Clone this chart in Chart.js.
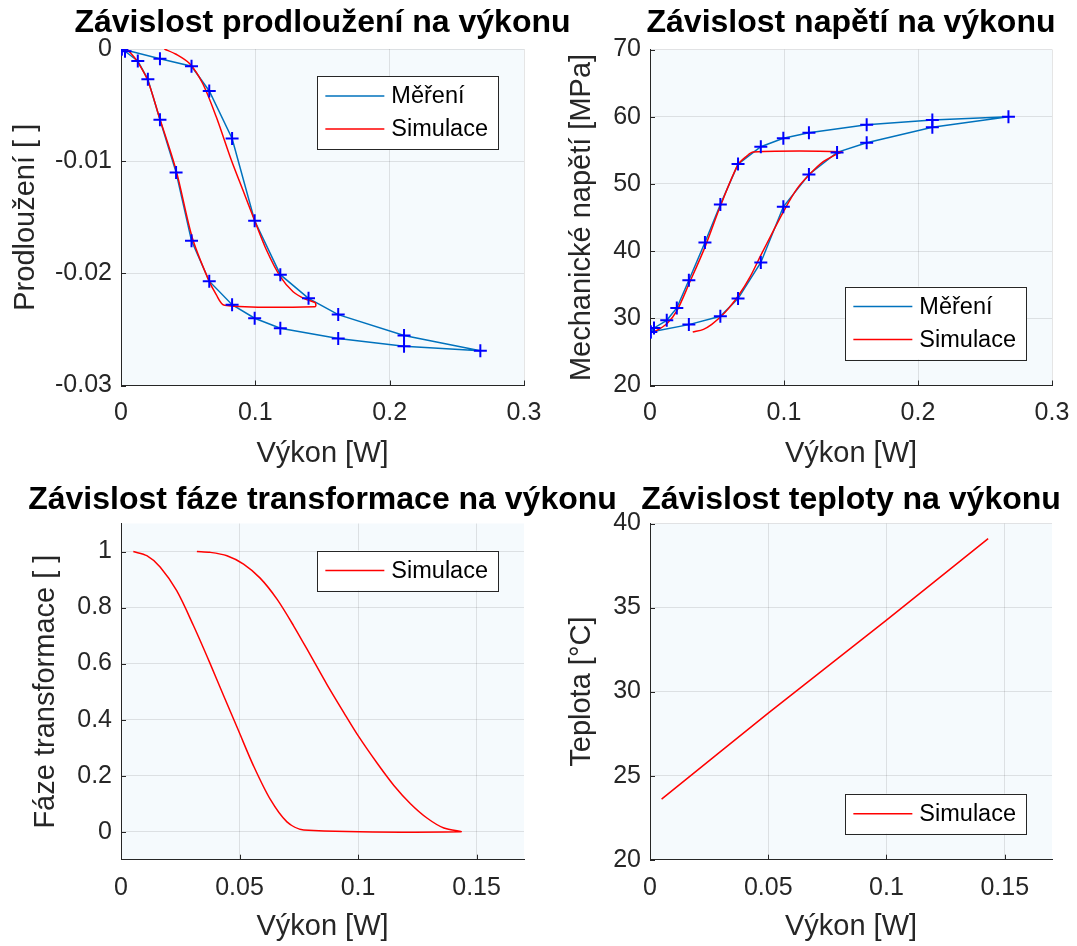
<!DOCTYPE html>
<html>
<head>
<meta charset="utf-8">
<title>Závislosti na výkonu</title>
<script src="https://cdn.jsdelivr.net/npm/chart.js@4.4.1/dist/chart.umd.min.js"></script>
<style>
  html, body { margin: 0; padding: 0; background: #ffffff; overflow: hidden; }
  #fig { position: relative; width: 1077px; height: 946px; overflow: hidden; }
  #fig canvas { position: absolute; left: 0; }
</style>
</head>
<body>
<div id="fig">
  <canvas id="strainChart" width="1100" height="473" style="top:0"></canvas>
  <canvas id="stressChart" width="1100" height="473" style="top:0"></canvas>
  <canvas id="phaseChart" width="1100" height="473" style="top:473px"></canvas>
  <canvas id="tempChart" width="1100" height="473" style="top:473px"></canvas>
</div>
<script>
// measured loop: heating branch, then cooling branch back to zero
const measP = [0.0005, 0.003, 0.0125, 0.020, 0.029, 0.041, 0.0525, 0.0657, 0.0827, 0.0995, 0.1186, 0.1617, 0.2107, 0.2675,
               0.2107, 0.1617, 0.1396, 0.1186, 0.0995, 0.0827, 0.0657, 0.0525, 0.029, 0.0005];
const measStrain = [0, -0.0002, -0.00107, -0.0027, -0.0063, -0.0110, -0.0171, -0.0207, -0.0228, -0.0240, -0.0249, -0.0258, -0.0265, -0.0269,
                    -0.02555, -0.02368, -0.02223, -0.02012, -0.01531, -0.00798, -0.00374, -0.00154, -0.00086, 0];
const measStress = [27.96, 28.56, 29.7, 31.54, 35.66, 41.28, 46.94, 52.95, 55.53, 56.78, 57.62, 58.81, 59.51, 60.0,
                    58.42, 56.13, 54.69, 51.41, 46.59, 38.3, 32.93, 30.3, 29.06, 27.96];

// simulation
const simStrainP = [0.004, 0.0075, 0.0124, 0.0199, 0.0286, 0.041, 0.053, 0.0647, 0.0709, 0.0771, 0.1445,
                    0.1445, 0.1368, 0.1281, 0.1186, 0.1082, 0.0995, 0.0908, 0.0821, 0.0709, 0.0609, 0.051, 0.041, 0.0323];
const simStrain = [0, -0.0004, -0.00115, -0.0028, -0.0061, -0.0108, -0.0168, -0.02045, -0.0219, -0.02285, -0.02297,
                   -0.02262, -0.02228, -0.02164, -0.0203, -0.0179, -0.0153, -0.0126, -0.0099, -0.00605, -0.0031, -0.0013, -0.00047, 0];

const simStressP = [0.004, 0.0126, 0.020, 0.0292, 0.0411, 0.0523, 0.0655, 0.0722, 0.0771, 0.143,
                    0.1395, 0.1293, 0.1186, 0.1094, 0.0995, 0.0908, 0.0821, 0.0747, 0.0662, 0.0585, 0.0531, 0.0461, 0.0399, 0.0319];
const simStress = [28.06, 29.2, 31.1, 35.17, 40.63, 46.59, 52.8, 54.14, 54.74, 54.8,
                   54.44, 53.3, 51.31, 49.18, 45.85, 42.52, 39.14, 36.16, 33.43, 31.44, 30.3, 29.1, 28.36, 27.96];

const simPhaseP = [0.0052, 0.0109, 0.0165, 0.0235, 0.0306, 0.0376, 0.0433, 0.0496, 0.0559, 0.063, 0.070, 0.0771, 0.1433,
                   0.1362, 0.1292, 0.1221, 0.1151, 0.108, 0.1003, 0.094, 0.0869, 0.0799, 0.0728, 0.0658, 0.0587, 0.0517, 0.0447, 0.0376, 0.032];
const simPhase = [1.0, 0.985, 0.945, 0.86, 0.735, 0.60, 0.485, 0.36, 0.235, 0.115, 0.035, 0.006, 0,
                  0.013, 0.048, 0.10, 0.165, 0.245, 0.339, 0.425, 0.525, 0.63, 0.735, 0.83, 0.905, 0.955, 0.985, 0.997, 1.0];

const simTempP = [0.0049, 0.05, 0.1, 0.143];
const simTemp = [23.6, 28.72, 34.25, 39.1];

// axis ticks
const powerTicksTop = [0, 0.1, 0.2, 0.3];
const powerTicksBottom = [0, 0.05, 0.1, 0.15];
const strainTicks = [-0.03, -0.02, -0.01, 0];
const stressTicks = [20, 30, 40, 50, 60, 70];
const phaseTicks = [0, 0.2, 0.4, 0.6, 0.8, 1];
const tempTicks = [20, 25, 30, 35, 40];

const FONT = "'Liberation Sans', Arial, Helvetica, sans-serif";
const TEXT = '#262626';
const BLUE_LINE = '#0072bd';
const RED = '#ff0000';

function xy(xs, ys) {
    return xs.map((x, i) => ({ x: x, y: ys[i] }));
}

function fmt(v) {
    return String(+v.toFixed(3));
}

// axes face, inward ticks, title and boxed legend like the MATLAB subplot
const axesDecor = {
    id: 'axesDecor',
    beforeDraw(chart) {
        const a = chart.chartArea, ctx = chart.ctx;
        ctx.save();
        ctx.fillStyle = '#f5fafd';
        ctx.fillRect(a.left, a.top, a.right - a.left, a.bottom - a.top);
        ctx.restore();
    },
    beforeDatasetsDraw(chart) {
        const a = chart.chartArea, ctx = chart.ctx;
        const xs = chart.scales.x, ys = chart.scales.y;
        ctx.save();
        ctx.strokeStyle = TEXT;
        ctx.lineWidth = 1;
        ctx.beginPath();
        xs.ticks.forEach(t => {
            const px = Math.round(xs.getPixelForValue(t.value)) + 0.5;
            ctx.moveTo(px, a.bottom);
            ctx.lineTo(px, a.bottom - 5);
        });
        ys.ticks.forEach(t => {
            const py = Math.round(ys.getPixelForValue(t.value)) + 0.5;
            ctx.moveTo(a.left, py);
            ctx.lineTo(a.left + 5, py);
        });
        ctx.stroke();
        ctx.restore();
    },
    afterDraw(chart, args, opts) {
        const a = chart.chartArea, ctx = chart.ctx;
        ctx.save();
        // title centred over the plot area
        ctx.font = 'bold 32px ' + FONT;
        ctx.fillStyle = '#000000';
        ctx.textAlign = 'center';
        ctx.textBaseline = 'middle';
        ctx.fillText(opts.title, (a.left + a.right) / 2, opts.titleY);

        // legend box
        const items = chart.data.datasets.filter(d => d.label);
        ctx.font = '23.5px ' + FONT;
        const textW = Math.max(...items.map(d => ctx.measureText(d.label).width));
        const rowH = 33, pad = 3.5, sample = 59;
        const w = 8 + sample + 7 + textW + 10;
        const h = items.length * rowH + 2 * pad;
        const bx = a.right - 26 - w;
        const by = opts.legend === 'tr' ? a.top + 27 : a.bottom - 26 - h;
        ctx.fillStyle = '#ffffff';
        ctx.fillRect(bx, by, w, h);
        ctx.strokeStyle = TEXT;
        ctx.lineWidth = 1;
        ctx.strokeRect(Math.round(bx) + 0.5, Math.round(by) + 0.5, Math.round(w), Math.round(h));
        ctx.textAlign = 'left';
        items.forEach((d, i) => {
            const cy = by + pad + rowH * i + rowH / 2;
            ctx.strokeStyle = d.borderColor;
            ctx.lineWidth = 1.5;
            ctx.beginPath();
            ctx.moveTo(bx + 8, cy);
            ctx.lineTo(bx + 8 + sample, cy);
            ctx.stroke();
            ctx.fillStyle = '#000000';
            ctx.fillText(d.label, bx + 8 + sample + 7, cy + 1);
        });
        ctx.restore();
    }
};

function makeChart(id, cfg) {
    const tickFont = { family: FONT, size: 25 };
    const titleFont = { family: FONT, size: 29 };
    new Chart(document.getElementById(id), {
        type: 'scatter',
        data: { datasets: cfg.datasets },
        options: {
            responsive: false,
            animation: false,
            events: [],
            devicePixelRatio: 1,
            layout: { padding: { top: cfg.padTop, right: cfg.padRight, left: cfg.padLeft, bottom: 0 } },
            scales: {
                x: {
                    type: 'linear',
                    min: cfg.x.min,
                    max: cfg.x.max,
                    afterBuildTicks: s => { s.ticks = cfg.x.ticks.map(v => ({ value: v })); },
                    afterFit: s => { s.height = cfg.xHeight; },
                    grid: { color: 'rgba(38,38,38,0.12)', drawTicks: false },
                    border: { color: TEXT, width: 1 },
                    ticks: { font: tickFont, color: TEXT, padding: 13, maxRotation: 0, autoSkip: false, callback: fmt },
                    title: { display: true, text: 'Výkon [W]', font: titleFont, color: TEXT, padding: { top: 0, bottom: 2 } }
                },
                y: {
                    type: 'linear',
                    min: cfg.y.min,
                    max: cfg.y.max,
                    afterBuildTicks: s => { s.ticks = cfg.y.ticks.map(v => ({ value: v })); },
                    afterFit: s => { s.width = cfg.yWidth; },
                    grid: { color: 'rgba(38,38,38,0.12)', drawTicks: false },
                    border: { color: TEXT, width: 1 },
                    ticks: { font: tickFont, color: TEXT, padding: 9, autoSkip: false, callback: fmt },
                    title: { display: true, text: cfg.y.title, font: titleFont, color: TEXT, padding: { top: cfg.yTitlePad, bottom: 0 } }
                }
            },
            plugins: {
                legend: { display: false },
                tooltip: { enabled: false },
                axesDecor: { title: cfg.title, titleY: cfg.titleY, legend: cfg.legend }
            }
        },
        plugins: [axesDecor]
    });
}

function simSet(xs, ys, tension) {
    return { label: 'Simulace', data: xy(xs, ys), showLine: true, pointRadius: 0, borderColor: RED, borderWidth: 1.5,
             tension: tension, order: 1 };
}

function measuredSets(ys) {
    return [
        { data: xy(measP, ys), showLine: false, pointStyle: 'cross', pointRadius: 6.5, pointBorderWidth: 2,
          borderColor: '#0000ff', order: 0 },
        { label: 'Měření', data: xy(measP, ys), showLine: true, pointRadius: 0, borderColor: BLUE_LINE, borderWidth: 1.5,
          tension: 0, order: 2 }
    ];
}

// left column spans x 121..524, right column 650..1052 of the 1077 px page
const LEFT = { padLeft: 0, yWidth: 121, padRight: 1100 - 524 };
const RIGHT = { padLeft: 538, yWidth: 112, padRight: 1100 - 1052 };

// strain vs power
makeChart('strainChart', Object.assign({
    datasets: [...measuredSets(measStrain), simSet(simStrainP, simStrain, 0.3)],
    title: 'Závislost prodloužení na výkonu', titleY: 23,
    padTop: 49, xHeight: 87.5, yTitlePad: 9, legend: 'tr',
    x: { min: 0, max: 0.3, ticks: powerTicksTop },
    y: { min: -0.03, max: 0, ticks: strainTicks, title: 'Prodloužení [ ]' }
}, LEFT));

// stress vs power
makeChart('stressChart', Object.assign({
    datasets: [...measuredSets(measStress), simSet(simStressP, simStress, 0.3)],
    title: 'Závislost napětí na výkonu', titleY: 23,
    padTop: 49.5, xHeight: 87.5, yTitlePad: 27, legend: 'br',
    x: { min: 0, max: 0.3, ticks: powerTicksTop },
    y: { min: 20, max: 70, ticks: stressTicks, title: 'Mechanické napětí [MPa]' }
}, RIGHT));

// phase fraction vs power
makeChart('phaseChart', Object.assign({
    datasets: [simSet(simPhaseP, simPhase, 0.3)],
    title: 'Závislost fáze transformace na výkonu', titleY: 27,
    padTop: 50.5, xHeight: 86.3, yTitlePad: 29, legend: 'tr',
    x: { min: 0, max: 0.17, ticks: powerTicksBottom },
    y: { min: -0.1, max: 1.1, ticks: phaseTicks, title: 'Fáze transformace [ ]' }
}, LEFT));

// temperature vs power
makeChart('tempChart', Object.assign({
    datasets: [simSet(simTempP, simTemp, 0.2)],
    title: 'Závislost teploty na výkonu', titleY: 27,
    padTop: 50.5, xHeight: 86.3, yTitlePad: 27, legend: 'br',
    x: { min: 0, max: 0.17, ticks: powerTicksBottom },
    y: { min: 20, max: 40, ticks: tempTicks, title: 'Teplota [°C]' }
}, RIGHT));
</script>
</body>
</html>
